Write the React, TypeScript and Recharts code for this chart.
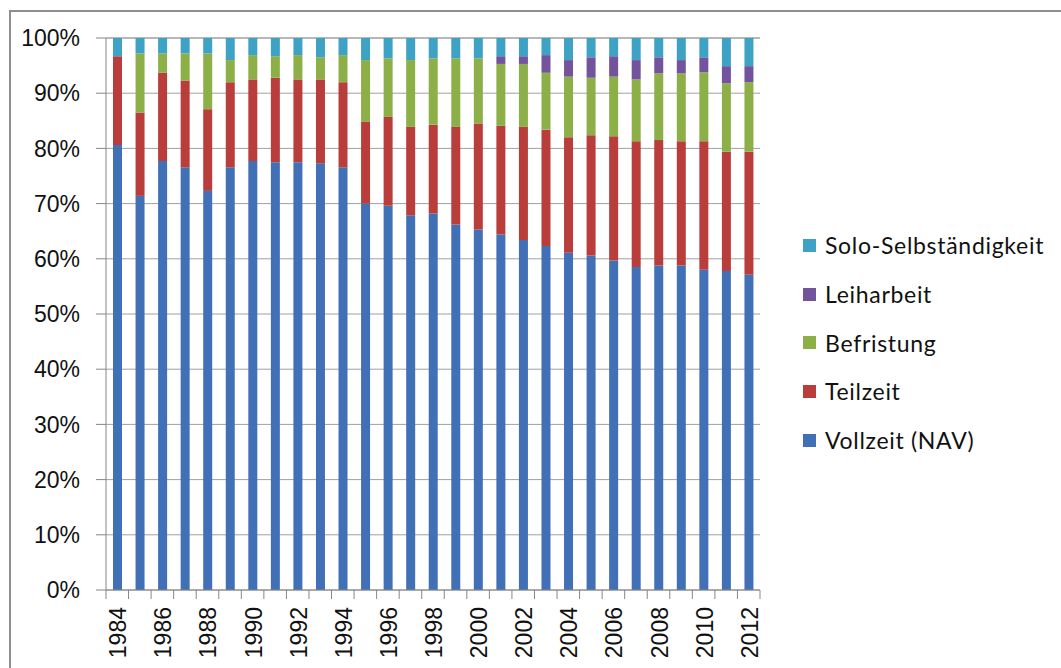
import { BarChart, Bar, XAxis, YAxis, CartesianGrid, Legend } from "recharts"

const years = [
  "1984", "1985", "1986", "1987", "1988", "1989", "1990", "1991", "1992", "1993",
  "1994", "1995", "1996", "1997", "1998", "1999", "2000", "2001", "2002", "2003",
  "2004", "2005", "2006", "2007", "2008", "2009", "2010", "2011", "2012",
]

const vollzeit = [
  80.6, 71.4, 77.7, 76.6, 72.3, 76.6, 77.7, 77.5, 77.5, 77.3,
  76.6, 70.0, 69.6, 67.9, 68.2, 66.2, 65.3, 64.4, 63.4, 62.3,
  61.1, 60.6, 59.7, 58.5, 58.8, 58.8, 58.0, 57.8, 57.1,
]
const teilzeit = [
  16.1, 15.1, 16.0, 15.7, 14.8, 15.4, 14.8, 15.3, 15.0, 15.2,
  15.4, 14.8, 16.1, 16.0, 16.1, 17.7, 19.2, 19.7, 20.5, 21.1,
  20.9, 21.8, 22.5, 22.8, 22.7, 22.5, 23.3, 21.6, 22.3,
]
const befristung = [
  0, 10.7, 3.5, 4.9, 10.1, 4.0, 4.4, 3.9, 4.4, 4.0,
  4.9, 11.2, 10.6, 12.1, 12.0, 12.4, 11.8, 11.2, 11.4, 10.3,
  11.0, 10.4, 10.8, 11.2, 12.1, 12.3, 12.5, 12.4, 12.6,
]
const leiharbeit = [
  0, 0, 0, 0, 0, 0, 0, 0, 0, 0,
  0, 0, 0, 0, 0, 0, 0, 1.4, 1.4, 3.2,
  3.0, 3.7, 3.7, 3.5, 2.9, 2.4, 2.7, 3.1, 2.9,
]
const solo = [
  3.3, 2.8, 2.8, 2.8, 2.8, 4.0, 3.1, 3.3, 3.1, 3.5,
  3.1, 4.0, 3.7, 4.0, 3.7, 3.7, 3.7, 3.3, 3.3, 3.1,
  4.0, 3.5, 3.3, 4.0, 3.5, 4.0, 3.5, 5.1, 5.1,
]

const yTicks = [0, 10, 20, 30, 40, 50, 60, 70, 80, 90, 100]

const data = years.map((year, i) => ({
  year,
  vollzeit: vollzeit[i],
  teilzeit: teilzeit[i],
  befristung: befristung[i],
  leiharbeit: leiharbeit[i],
  solo: solo[i],
}))

const series = [
  { key: "vollzeit", name: "Vollzeit (NAV)", color: "#4170B6" },
  { key: "teilzeit", name: "Teilzeit", color: "#B93E3B" },
  { key: "befristung", name: "Befristung", color: "#8DAF48" },
  { key: "leiharbeit", name: "Leiharbeit", color: "#73539B" },
  { key: "solo", name: "Solo-Selbständigkeit", color: "#3DA2C3" },
]

const axisColor = "#868686"
const tickFont = "'Liberation Sans', Arial, sans-serif"

function YearTick(props: any) {
  const { x, y, payload, index } = props
  const half = payload.offset || 11.28
  const last = index === years.length - 1
  return (
    <g>
      <line x1={x - half} y1={y} x2={x - half} y2={y + 9} stroke={axisColor} />
      {last && <line x1={x + half} y1={y} x2={x + half} y2={y + 9} stroke={axisColor} />}
      {index % 2 === 0 && (
        <text
          x={0}
          y={0}
          transform={`translate(${x + 1},${y + 17}) rotate(-90)`}
          textAnchor="end"
          dominantBaseline="central"
          fontFamily={tickFont}
          fontSize={23}
          fill="#111"
        >
          {payload.value}
        </text>
      )}
    </g>
  )
}

function LegendBox() {
  return (
    <div style={{ fontFamily: "Lato, 'Open Sans', sans-serif", fontSize: 23, letterSpacing: 0.7, color: "#111" }}>
      {[...series].reverse().map((s) => (
        <div key={s.key} style={{ display: "flex", alignItems: "center", height: 48.7 }}>
          <span style={{ display: "inline-block", width: 13, height: 13, background: s.color, marginRight: 9 }} />
          <span>{s.name}</span>
        </div>
      ))}
    </div>
  )
}

export default function App() {
  return (
    <div style={{ position: "absolute", left: 0, top: 0, width: 1061, height: 668, background: "#fff", overflow: "hidden" }}>
      <div
        style={{
          position: "absolute",
          left: 9,
          top: 10,
          width: 1100,
          height: 700,
          borderLeft: "2px solid #8f8f8f",
          borderTop: "2px solid #8f8f8f",
        }}
      />
      <div style={{ position: "absolute", left: 0, top: 0 }}>
        <BarChart
          width={1061}
          height={668}
          data={data}
          margin={{ top: 38, right: 301, bottom: 0, left: 0 }}
          barSize={9}
        >
          <CartesianGrid vertical={false} stroke="#a0a0a0" />
          <XAxis
            dataKey="year"
            interval={0}
            height={78}
            tickSize={0}
            tickMargin={0}
            tickLine={false}
            axisLine={{ stroke: axisColor }}
            tick={<YearTick />}
          />
          <YAxis
            width={106}
            domain={[0, 100]}
            ticks={yTicks}
            interval={0}
            tickSize={10}
            tickMargin={16}
            axisLine={{ stroke: axisColor }}
            tickLine={{ stroke: axisColor }}
            tickFormatter={(v: number) => `${v}%`}
            tick={{ fontFamily: tickFont, fontSize: 23, fill: "#111" }}
          />
          {series.map((s) => (
            <Bar key={s.key} dataKey={s.key} name={s.name} stackId="a" fill={s.color} isAnimationActive={false} />
          ))}
          <Legend
            layout="vertical"
            align="center"
            verticalAlign="middle"
            content={<LegendBox />}
            wrapperStyle={{ left: 803, top: 221, width: 258 }}
          />
        </BarChart>
      </div>
    </div>
  )
}
